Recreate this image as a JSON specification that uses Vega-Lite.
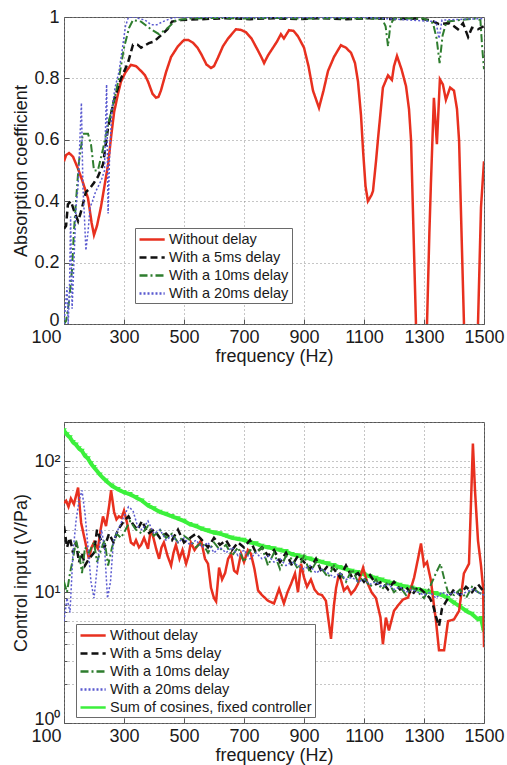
{
  "$schema": "https://vega.github.io/schema/vega-lite/v6.json",
  "background": "white",
  "padding": {"left": 12, "top": 7, "right": 4, "bottom": 2},
  "bounds": "flush",
  "spacing": 98,
  "config": {
    "font": "Liberation Sans",
    "view": {"stroke": "#555555", "strokeWidth": 1},
    "axis": {
      "labelFont": "Liberation Sans", "labelFontSize": 18, "labelColor": "#1a1a1a",
      "titleFont": "Liberation Sans", "titleFontSize": 18, "titleFontWeight": "normal", "titleColor": "#1a1a1a",
      "domain": false, "grid": true, "gridColor": "#8c8c8c", "gridDash": [1, 3], "gridWidth": 1,
      "tickColor": "#555555", "tickSize": -5, "labelPadding": 9
    },
    "legend": {
      "labelFont": "Liberation Sans", "labelFontSize": 14.5, "labelColor": "#1a1a1a", "labelLimit": 400,
      "strokeColor": "#6a6a6a", "fillColor": "white", "padding": 3, "rowPadding": 3,
      "symbolType": "M-1,0H2.6", "symbolSize": 196, "symbolStrokeWidth": 2.5, "labelOffset": 14
    }
  },
  "datasets": {
    "tR": [
      {"f":100,"v":0.53},{"f":107,"v":0.55},{"f":117,"v":0.557},{"f":130,"v":0.545},{"f":145,"v":0.51},{"f":160,"v":0.47},{"f":180,"v":0.41},{"f":192,"v":0.33},{"f":200,"v":0.29},{"f":210,"v":0.32},{"f":223,"v":0.38},{"f":235,"v":0.45},{"f":247,"v":0.52},{"f":257,"v":0.61},{"f":267,"v":0.69},{"f":280,"v":0.75},{"f":290,"v":0.79},{"f":305,"v":0.82},{"f":323,"v":0.844},{"f":340,"v":0.84},{"f":357,"v":0.824},{"f":370,"v":0.81},{"f":380,"v":0.79},{"f":395,"v":0.75},{"f":407,"v":0.737},{"f":415,"v":0.74},{"f":423,"v":0.76},{"f":440,"v":0.82},{"f":457,"v":0.87},{"f":480,"v":0.905},{"f":500,"v":0.925},{"f":515,"v":0.925},{"f":530,"v":0.916},{"f":545,"v":0.9},{"f":557,"v":0.88},{"f":575,"v":0.845},{"f":590,"v":0.834},{"f":600,"v":0.84},{"f":613,"v":0.867},{"f":630,"v":0.905},{"f":647,"v":0.93},{"f":660,"v":0.945},{"f":673,"v":0.96},{"f":690,"v":0.958},{"f":707,"v":0.95},{"f":725,"v":0.93},{"f":747,"v":0.89},{"f":760,"v":0.865},{"f":767,"v":0.85},{"f":780,"v":0.875},{"f":790,"v":0.89},{"f":810,"v":0.92},{"f":823,"v":0.944},{"f":833,"v":0.93},{"f":850,"v":0.957},{"f":865,"v":0.955},{"f":880,"v":0.937},{"f":900,"v":0.9},{"f":915,"v":0.84},{"f":930,"v":0.76},{"f":950,"v":0.704},{"f":965,"v":0.76},{"f":980,"v":0.824},{"f":1000,"v":0.87},{"f":1023,"v":0.908},{"f":1040,"v":0.9},{"f":1057,"v":0.883},{"f":1070,"v":0.85},{"f":1080,"v":0.79},{"f":1090,"v":0.68},{"f":1097,"v":0.563},{"f":1105,"v":0.45},{"f":1113,"v":0.4},{"f":1125,"v":0.42},{"f":1130,"v":0.433},{"f":1140,"v":0.53},{"f":1147,"v":0.606},{"f":1163,"v":0.77},{"f":1180,"v":0.81},{"f":1193,"v":0.795},{"f":1200,"v":0.84},{"f":1210,"v":0.873},{"f":1225,"v":0.83},{"f":1240,"v":0.775},{"f":1250,"v":0.7},{"f":1257,"v":0.596},{"f":1265,"v":0.3},{"f":1273,"v":0.01},{"f":1290,"v":-1},{"f":1310,"v":0.0},{"f":1318,"v":0.3},{"f":1323,"v":0.456},{"f":1333,"v":0.737},{"f":1343,"v":0.586},{"f":1353,"v":0.797},{"f":1363,"v":0.78},{"f":1373,"v":0.73},{"f":1387,"v":0.77},{"f":1400,"v":0.76},{"f":1410,"v":0.7},{"f":1417,"v":0.596},{"f":1425,"v":0.3},{"f":1433,"v":0.01},{"f":1455,"v":-1},{"f":1480,"v":0.0},{"f":1490,"v":0.38},{"f":1500,"v":0.53}
    ],
    "tK": [
      {"f":100,"v":0.31},{"f":107,"v":0.32},{"f":113,"v":0.39},{"f":123,"v":0.4},{"f":133,"v":0.37},{"f":147,"v":0.335},{"f":155,"v":0.36},{"f":163,"v":0.39},{"f":173,"v":0.43},{"f":185,"v":0.44},{"f":200,"v":0.46},{"f":213,"v":0.48},{"f":230,"v":0.52},{"f":247,"v":0.64},{"f":267,"v":0.73},{"f":290,"v":0.8},{"f":313,"v":0.85},{"f":330,"v":0.91},{"f":345,"v":0.91},{"f":357,"v":0.9},{"f":383,"v":0.915},{"f":400,"v":0.92},{"f":423,"v":0.94},{"f":445,"v":0.96},{"f":460,"v":0.985},{"f":490,"v":0.99},{"f":560,"v":0.993},{"f":640,"v":0.996},{"f":720,"v":0.993},{"f":800,"v":0.996},{"f":880,"v":0.993},{"f":960,"v":0.996},{"f":1040,"v":0.993},{"f":1120,"v":0.996},{"f":1200,"v":0.993},{"f":1280,"v":0.995},{"f":1320,"v":0.99},{"f":1350,"v":0.977},{"f":1383,"v":0.98},{"f":1400,"v":0.97},{"f":1413,"v":0.96},{"f":1430,"v":0.98},{"f":1447,"v":0.935},{"f":1460,"v":0.965},{"f":1480,"v":0.96},{"f":1500,"v":0.97}
    ],
    "tG": [
      {"f":100,"v":0.0},{"f":107,"v":0.01},{"f":117,"v":0.075},{"f":127,"v":0.18},{"f":133,"v":0.3},{"f":140,"v":0.4},{"f":150,"v":0.53},{"f":163,"v":0.62},{"f":180,"v":0.62},{"f":190,"v":0.585},{"f":200,"v":0.5},{"f":213,"v":0.5},{"f":230,"v":0.57},{"f":247,"v":0.65},{"f":267,"v":0.73},{"f":283,"v":0.8},{"f":300,"v":0.9},{"f":317,"v":0.965},{"f":330,"v":0.99},{"f":357,"v":0.985},{"f":390,"v":0.96},{"f":417,"v":0.944},{"f":447,"v":0.965},{"f":473,"v":0.99},{"f":520,"v":0.995},{"f":600,"v":0.997},{"f":700,"v":0.995},{"f":800,"v":0.997},{"f":900,"v":0.995},{"f":1000,"v":0.996},{"f":1100,"v":0.995},{"f":1160,"v":0.995},{"f":1172,"v":0.97},{"f":1180,"v":0.905},{"f":1188,"v":0.975},{"f":1200,"v":0.995},{"f":1300,"v":0.995},{"f":1330,"v":0.98},{"f":1342,"v":0.93},{"f":1352,"v":0.85},{"f":1362,"v":0.94},{"f":1375,"v":0.985},{"f":1420,"v":0.99},{"f":1470,"v":0.995},{"f":1488,"v":0.99},{"f":1494,"v":0.9},{"f":1500,"v":0.83}
    ],
    "tU": [
      {"f":100,"v":0.0},{"f":105,"v":0.06},{"f":110,"v":0.12},{"f":114,"v":0.0},{"f":118,"v":0.1},{"f":122,"v":0.35},{"f":127,"v":0.05},{"f":133,"v":0.2},{"f":140,"v":0.38},{"f":147,"v":0.45},{"f":153,"v":0.6},{"f":158,"v":0.72},{"f":163,"v":0.45},{"f":168,"v":0.35},{"f":173,"v":0.24},{"f":180,"v":0.3},{"f":187,"v":0.38},{"f":195,"v":0.4},{"f":205,"v":0.43},{"f":215,"v":0.45},{"f":225,"v":0.47},{"f":235,"v":0.5},{"f":242,"v":0.78},{"f":247,"v":0.36},{"f":252,"v":0.55},{"f":260,"v":0.7},{"f":270,"v":0.77},{"f":283,"v":0.82},{"f":295,"v":0.9},{"f":305,"v":0.97},{"f":315,"v":1.0},{"f":335,"v":1.0},{"f":350,"v":0.995},{"f":370,"v":0.99},{"f":390,"v":0.975},{"f":410,"v":0.975},{"f":430,"v":0.985},{"f":455,"v":0.995},{"f":480,"v":1.0},{"f":800,"v":0.998},{"f":1100,"v":0.999},{"f":1340,"v":0.985},{"f":1350,"v":0.93},{"f":1360,"v":0.99},{"f":1500,"v":0.995}
    ],
    "bS": [
      {"f":100,"v":172},{"f":110,"v":160},{"f":120,"v":152},{"f":130,"v":140},{"f":140,"v":134},{"f":150,"v":125},{"f":160,"v":120},{"f":170,"v":110},{"f":180,"v":105},{"f":190,"v":96},{"f":200,"v":90},{"f":220,"v":79},{"f":240,"v":71},{"f":260,"v":65},{"f":280,"v":61},{"f":300,"v":58},{"f":320,"v":56},{"f":340,"v":53},{"f":360,"v":50},{"f":380,"v":46},{"f":400,"v":43.5},{"f":420,"v":41},{"f":440,"v":39.5},{"f":460,"v":38},{"f":480,"v":36.5},{"f":500,"v":35},{"f":520,"v":33},{"f":540,"v":32},{"f":560,"v":30.5},{"f":580,"v":29.5},{"f":600,"v":28.5},{"f":620,"v":28},{"f":640,"v":27},{"f":660,"v":26},{"f":680,"v":25.5},{"f":700,"v":25},{"f":720,"v":24},{"f":740,"v":23.5},{"f":760,"v":22.5},{"f":780,"v":22},{"f":800,"v":21.5},{"f":820,"v":21},{"f":840,"v":20.5},{"f":860,"v":19.5},{"f":880,"v":19},{"f":900,"v":18.5},{"f":920,"v":18},{"f":940,"v":17.5},{"f":960,"v":17},{"f":980,"v":16.5},{"f":1000,"v":16},{"f":1020,"v":15.5},{"f":1040,"v":15},{"f":1060,"v":14.5},{"f":1080,"v":14.2},{"f":1100,"v":13.7},{"f":1120,"v":13.2},{"f":1140,"v":12.8},{"f":1160,"v":12.4},{"f":1180,"v":12},{"f":1200,"v":11.7},{"f":1220,"v":11.3},{"f":1240,"v":11},{"f":1260,"v":10.8},{"f":1280,"v":10.5},{"f":1300,"v":10.2},{"f":1320,"v":10},{"f":1340,"v":9.8},{"f":1360,"v":9.5},{"f":1380,"v":9},{"f":1400,"v":8.3},{"f":1420,"v":7.8},{"f":1440,"v":7.2},{"f":1460,"v":6.8},{"f":1480,"v":6.2},{"f":1490,"v":6.3},{"f":1500,"v":5}
    ],
    "bR": [
      {"f":100,"v":48},{"f":107,"v":50},{"f":115,"v":45},{"f":123,"v":52},{"f":133,"v":47},{"f":147,"v":63},{"f":157,"v":34},{"f":165,"v":28},{"f":173,"v":23},{"f":183,"v":18},{"f":192,"v":22},{"f":200,"v":24},{"f":213,"v":21.5},{"f":222,"v":30},{"f":230,"v":38},{"f":240,"v":32},{"f":250,"v":45},{"f":257,"v":60},{"f":267,"v":41},{"f":275,"v":36},{"f":283,"v":38},{"f":292,"v":37},{"f":300,"v":42},{"f":310,"v":34},{"f":323,"v":24},{"f":333,"v":23},{"f":340,"v":25},{"f":350,"v":22},{"f":357,"v":23},{"f":367,"v":26},{"f":380,"v":21.5},{"f":390,"v":30.6},{"f":400,"v":25},{"f":407,"v":21.5},{"f":417,"v":18},{"f":425,"v":22},{"f":433,"v":24},{"f":445,"v":19},{"f":457,"v":16},{"f":465,"v":20},{"f":473,"v":23},{"f":485,"v":18},{"f":495,"v":21},{"f":507,"v":16.5},{"f":515,"v":19},{"f":523,"v":24},{"f":535,"v":21},{"f":547,"v":23},{"f":557,"v":24.8},{"f":570,"v":18},{"f":580,"v":16.5},{"f":590,"v":10.8},{"f":600,"v":9},{"f":607,"v":8.5},{"f":617,"v":15.4},{"f":627,"v":12.5},{"f":637,"v":14},{"f":647,"v":18},{"f":657,"v":19.7},{"f":667,"v":14.6},{"f":677,"v":14},{"f":690,"v":19.7},{"f":700,"v":17},{"f":713,"v":21},{"f":723,"v":19.7},{"f":735,"v":15},{"f":747,"v":10.3},{"f":760,"v":9.5},{"f":780,"v":8.6},{"f":800,"v":8.2},{"f":817,"v":10.6},{"f":833,"v":8.2},{"f":845,"v":10},{"f":857,"v":11.6},{"f":870,"v":13.9},{"f":880,"v":10},{"f":890,"v":16.5},{"f":900,"v":13},{"f":910,"v":11},{"f":923,"v":12.5},{"f":935,"v":10.5},{"f":947,"v":9.7},{"f":960,"v":9.5},{"f":973,"v":8.6},{"f":990,"v":4.4},{"f":1000,"v":8},{"f":1007,"v":10.8},{"f":1017,"v":13.9},{"f":1033,"v":10.3},{"f":1045,"v":11},{"f":1057,"v":9.7},{"f":1070,"v":10.5},{"f":1080,"v":11.6},{"f":1097,"v":15.4},{"f":1110,"v":12},{"f":1125,"v":10},{"f":1140,"v":9},{"f":1155,"v":6.4},{"f":1163,"v":4.0},{"f":1173,"v":6.4},{"f":1183,"v":5.1},{"f":1200,"v":7.2},{"f":1215,"v":8},{"f":1230,"v":8.8},{"f":1247,"v":9.1},{"f":1267,"v":12.9},{"f":1280,"v":18},{"f":1290,"v":23.6},{"f":1300,"v":16},{"f":1310,"v":17},{"f":1323,"v":12.3},{"f":1333,"v":8},{"f":1340,"v":6.0},{"f":1350,"v":3.6},{"f":1367,"v":3.6},{"f":1380,"v":6.0},{"f":1400,"v":6.2},{"f":1417,"v":7.2},{"f":1433,"v":13.9},{"f":1450,"v":16.5},{"f":1463,"v":137},{"f":1470,"v":60},{"f":1480,"v":24.8},{"f":1490,"v":16},{"f":1497,"v":10.8},{"f":1500,"v":3.8}
    ],
    "bK": [
      {"f":100,"v":32},{"f":110,"v":22},{"f":120,"v":26},{"f":130,"v":20},{"f":140,"v":24},{"f":150,"v":17},{"f":160,"v":20},{"f":170,"v":16},{"f":183,"v":18},{"f":200,"v":20},{"f":210,"v":30},{"f":220,"v":26},{"f":235,"v":22},{"f":250,"v":28},{"f":265,"v":24},{"f":280,"v":30},{"f":300,"v":35},{"f":315,"v":38},{"f":330,"v":33},{"f":345,"v":30},{"f":360,"v":35},{"f":380,"v":28},{"f":400,"v":30},{"f":420,"v":26},{"f":440,"v":28},{"f":460,"v":25},{"f":480,"v":30},{"f":500,"v":24},{"f":520,"v":26},{"f":540,"v":28},{"f":560,"v":25},{"f":580,"v":22},{"f":600,"v":26},{"f":620,"v":23},{"f":640,"v":25},{"f":660,"v":21},{"f":680,"v":24},{"f":700,"v":22},{"f":720,"v":25},{"f":740,"v":20},{"f":760,"v":22},{"f":780,"v":19},{"f":800,"v":21},{"f":820,"v":17},{"f":840,"v":20},{"f":860,"v":16},{"f":880,"v":19},{"f":900,"v":17},{"f":920,"v":15},{"f":940,"v":18},{"f":960,"v":14},{"f":980,"v":16},{"f":1000,"v":15},{"f":1020,"v":13},{"f":1040,"v":16},{"f":1060,"v":13},{"f":1080,"v":14},{"f":1100,"v":12},{"f":1120,"v":13.5},{"f":1140,"v":11.5},{"f":1160,"v":12},{"f":1180,"v":10.5},{"f":1200,"v":12},{"f":1220,"v":10.5},{"f":1240,"v":11},{"f":1260,"v":9.5},{"f":1280,"v":11},{"f":1300,"v":10},{"f":1320,"v":9},{"f":1330,"v":8},{"f":1340,"v":6.5},{"f":1350,"v":5.5},{"f":1360,"v":7.5},{"f":1380,"v":9},{"f":1400,"v":10.5},{"f":1420,"v":9.5},{"f":1440,"v":11},{"f":1460,"v":10},{"f":1480,"v":11.5},{"f":1500,"v":10}
    ],
    "bG": [
      {"f":100,"v":12},{"f":110,"v":10},{"f":120,"v":14},{"f":130,"v":18},{"f":140,"v":25},{"f":150,"v":20},{"f":160,"v":14},{"f":170,"v":22},{"f":183,"v":20},{"f":200,"v":24},{"f":210,"v":17},{"f":220,"v":20},{"f":235,"v":25},{"f":247,"v":16},{"f":260,"v":22},{"f":275,"v":28},{"f":290,"v":26},{"f":305,"v":30},{"f":320,"v":35},{"f":340,"v":30},{"f":360,"v":28},{"f":380,"v":32},{"f":400,"v":27},{"f":420,"v":30},{"f":440,"v":26},{"f":460,"v":28},{"f":480,"v":24},{"f":500,"v":27},{"f":520,"v":25},{"f":540,"v":22},{"f":560,"v":24},{"f":580,"v":20},{"f":600,"v":24},{"f":620,"v":21},{"f":640,"v":23},{"f":660,"v":19},{"f":680,"v":22},{"f":700,"v":17},{"f":720,"v":21},{"f":740,"v":20},{"f":760,"v":22},{"f":780,"v":16},{"f":800,"v":20},{"f":820,"v":15},{"f":840,"v":19},{"f":860,"v":18},{"f":880,"v":15},{"f":900,"v":19},{"f":920,"v":14},{"f":940,"v":17},{"f":960,"v":15},{"f":980,"v":13},{"f":1000,"v":16},{"f":1020,"v":14},{"f":1040,"v":12},{"f":1060,"v":15},{"f":1080,"v":12},{"f":1100,"v":13},{"f":1120,"v":11},{"f":1140,"v":12.5},{"f":1160,"v":10.5},{"f":1180,"v":12},{"f":1200,"v":10},{"f":1220,"v":11},{"f":1240,"v":9.5},{"f":1260,"v":11},{"f":1280,"v":10},{"f":1300,"v":9},{"f":1320,"v":11},{"f":1340,"v":14},{"f":1355,"v":16.5},{"f":1370,"v":12},{"f":1380,"v":10},{"f":1400,"v":9.5},{"f":1420,"v":10.5},{"f":1440,"v":9},{"f":1460,"v":11},{"f":1480,"v":10},{"f":1500,"v":9.5}
    ],
    "bU": [
      {"f":100,"v":6},{"f":110,"v":9},{"f":120,"v":7},{"f":130,"v":20},{"f":140,"v":35},{"f":150,"v":50},{"f":160,"v":60},{"f":170,"v":40},{"f":180,"v":22},{"f":190,"v":12},{"f":200,"v":9},{"f":210,"v":15},{"f":225,"v":30},{"f":235,"v":22},{"f":245,"v":9},{"f":255,"v":12},{"f":265,"v":25},{"f":280,"v":30},{"f":300,"v":38},{"f":315,"v":45},{"f":330,"v":42},{"f":345,"v":32},{"f":360,"v":30},{"f":380,"v":35},{"f":400,"v":28},{"f":420,"v":30},{"f":440,"v":25},{"f":460,"v":27},{"f":480,"v":24},{"f":500,"v":26},{"f":520,"v":23},{"f":540,"v":25},{"f":560,"v":22},{"f":580,"v":24},{"f":600,"v":20},{"f":620,"v":22},{"f":640,"v":20},{"f":660,"v":22},{"f":680,"v":19},{"f":700,"v":21},{"f":720,"v":18},{"f":740,"v":20},{"f":760,"v":18},{"f":780,"v":19},{"f":800,"v":17},{"f":820,"v":18},{"f":840,"v":16},{"f":860,"v":17},{"f":880,"v":16},{"f":900,"v":15},{"f":920,"v":16},{"f":940,"v":14},{"f":960,"v":15},{"f":980,"v":14},{"f":1000,"v":13},{"f":1020,"v":14},{"f":1040,"v":12.5},{"f":1060,"v":13},{"f":1080,"v":12},{"f":1100,"v":12.5},{"f":1120,"v":11.5},{"f":1140,"v":12},{"f":1160,"v":11},{"f":1180,"v":11.5},{"f":1200,"v":10.5},{"f":1220,"v":11},{"f":1240,"v":10},{"f":1260,"v":10.5},{"f":1280,"v":10},{"f":1300,"v":9.5},{"f":1320,"v":10},{"f":1340,"v":9},{"f":1360,"v":10},{"f":1380,"v":9.5},{"f":1400,"v":10},{"f":1420,"v":9.5},{"f":1440,"v":10},{"f":1460,"v":10.5},{"f":1480,"v":10},{"f":1500,"v":9.5}
    ]
  },
  "vconcat": [
    {
      "width": 420,
      "height": 307,
      "encoding": {
        "x": {"field": "f", "type": "quantitative", "scale": {"domain": [100, 1500], "nice": false, "zero": false},
          "axis": {"values": [100, 300, 500, 700, 900, 1100, 1300, 1500], "format": "d", "title": "frequency (Hz)", "titlePadding": 1,
            "labelAlign": {"condition": {"test": "datum.value == 100", "value": "right"}, "value": "center"},
            "labelOffset": {"condition": {"test": "datum.value == 100", "value": -3}, "value": 0}}},
        "y": {"field": "v", "type": "quantitative", "scale": {"domain": [0, 1], "nice": false},
          "axis": {"values": [0, 0.2, 0.4, 0.6, 0.8, 1], "format": "~g", "title": "Absorption coefficient", "titlePadding": 3, "labelPadding": 10,
            "labelOffset": {"condition": {"test": "datum.value == 0", "value": -4}, "value": 0}}}
      },
      "layer": [
        {"data": {"name": "tR"}, "mark": {"type": "line", "clip": true, "strokeWidth": 2.5},
          "encoding": {
            "color": {"datum": "Without delay", "type": "nominal",
              "scale": {"domain": ["Without delay", "With a 5ms delay", "With a 10ms delay", "With a 20ms delay"], "range": ["#e8301f", "#111111", "#2e7d2e", "#5a5ad0"]},
              "legend": {"orient": "none", "legendX": 71, "legendY": 211, "title": null}},
            "strokeDash": {"datum": "Without delay", "type": "nominal",
              "scale": {"domain": ["Without delay", "With a 5ms delay", "With a 10ms delay", "With a 20ms delay"], "range": [[1, 0], [7, 4], [8, 3, 2, 3], [2, 2]]},
              "legend": {"orient": "none", "legendX": 71, "legendY": 211, "title": null}}
          }},
        {"data": {"name": "tK"}, "mark": {"type": "line", "clip": true, "strokeWidth": 2.5},
          "encoding": {"color": {"datum": "With a 5ms delay", "type": "nominal"}, "strokeDash": {"datum": "With a 5ms delay", "type": "nominal"}}},
        {"data": {"name": "tG"}, "mark": {"type": "line", "clip": true, "strokeWidth": 2},
          "encoding": {"color": {"datum": "With a 10ms delay", "type": "nominal"}, "strokeDash": {"datum": "With a 10ms delay", "type": "nominal"}}},
        {"data": {"name": "tU"}, "mark": {"type": "line", "clip": true, "strokeWidth": 1.5},
          "encoding": {"color": {"datum": "With a 20ms delay", "type": "nominal"}, "strokeDash": {"datum": "With a 20ms delay", "type": "nominal"}}}
      ],
      "resolve": {"scale": {"color": "shared", "strokeDash": "shared"}}
    },
    {
      "width": 420,
      "height": 301,
      "encoding": {
        "x": {"field": "f", "type": "quantitative", "scale": {"domain": [100, 1500], "nice": false, "zero": false},
          "axis": {"values": [100, 300, 500, 700, 900, 1100, 1300, 1500], "format": "d", "title": "frequency (Hz)", "titlePadding": 1,
            "labelAlign": {"condition": {"test": "datum.value == 100", "value": "right"}, "value": "center"},
            "labelOffset": {"condition": {"test": "datum.value == 100", "value": -3}, "value": 0}}},
        "y": {"field": "v", "type": "quantitative", "scale": {"type": "log", "domain": [1, 200], "nice": false},
          "axis": {"values": [1, 2, 3, 4, 5, 6, 7, 8, 9, 10, 20, 30, 40, 50, 60, 70, 80, 90, 100, 200],
            "labelExpr": "datum.value == 1 ? '10⁰' : datum.value == 10 ? '10¹' : datum.value == 100 ? '10²' : ''",
            "title": "Control input (V/Pa)", "titlePadding": 3, "labelPadding": 10,
            "labelOffset": {"condition": {"test": "datum.value == 1", "value": -4}, "value": 0},
            "tickSize": {"condition": {"test": "datum.value == 1 || datum.value == 10 || datum.value == 100", "value": -6}, "value": -3}}}
      },
      "layer": [
        {"data": {"name": "bS"}, "mark": {"type": "line", "clip": true, "strokeWidth": 4},
          "encoding": {
            "color": {"datum": "Sum of cosines, fixed controller", "type": "nominal",
              "scale": {"domain": ["Without delay", "With a 5ms delay", "With a 10ms delay", "With a 20ms delay", "Sum of cosines, fixed controller"], "range": ["#e8301f", "#111111", "#2e7d2e", "#5a5ad0", "#3cf03c"]},
              "legend": {"orient": "none", "legendX": 12, "legendY": 202, "title": null}},
            "strokeDash": {"datum": "Sum of cosines, fixed controller", "type": "nominal",
              "scale": {"domain": ["Without delay", "With a 5ms delay", "With a 10ms delay", "With a 20ms delay", "Sum of cosines, fixed controller"], "range": [[1, 0], [7, 4], [8, 3, 2, 3], [2, 2], [1, 0]]},
              "legend": {"orient": "none", "legendX": 12, "legendY": 202, "title": null}}
          }},
        {"data": {"name": "bS"}, "mark": {"type": "point", "shape": "triangle-down", "filled": true, "size": 30, "color": "#3cf03c", "opacity": 1, "clip": true}},
        {"data": {"name": "bR"}, "mark": {"type": "line", "clip": true, "strokeWidth": 2.5},
          "encoding": {"color": {"datum": "Without delay", "type": "nominal"}, "strokeDash": {"datum": "Without delay", "type": "nominal"}}},
        {"data": {"name": "bK"}, "mark": {"type": "line", "clip": true, "strokeWidth": 2.5},
          "encoding": {"color": {"datum": "With a 5ms delay", "type": "nominal"}, "strokeDash": {"datum": "With a 5ms delay", "type": "nominal"}}},
        {"data": {"name": "bG"}, "mark": {"type": "line", "clip": true, "strokeWidth": 2},
          "encoding": {"color": {"datum": "With a 10ms delay", "type": "nominal"}, "strokeDash": {"datum": "With a 10ms delay", "type": "nominal"}}},
        {"data": {"name": "bU"}, "mark": {"type": "line", "clip": true, "strokeWidth": 1.5},
          "encoding": {"color": {"datum": "With a 20ms delay", "type": "nominal"}, "strokeDash": {"datum": "With a 20ms delay", "type": "nominal"}}}
      ],
      "resolve": {"scale": {"color": "shared", "strokeDash": "shared"}}
    }
  ],
  "resolve": {"scale": {"color": "independent", "strokeDash": "independent"}, "legend": {"color": "independent", "strokeDash": "independent"}}
}
